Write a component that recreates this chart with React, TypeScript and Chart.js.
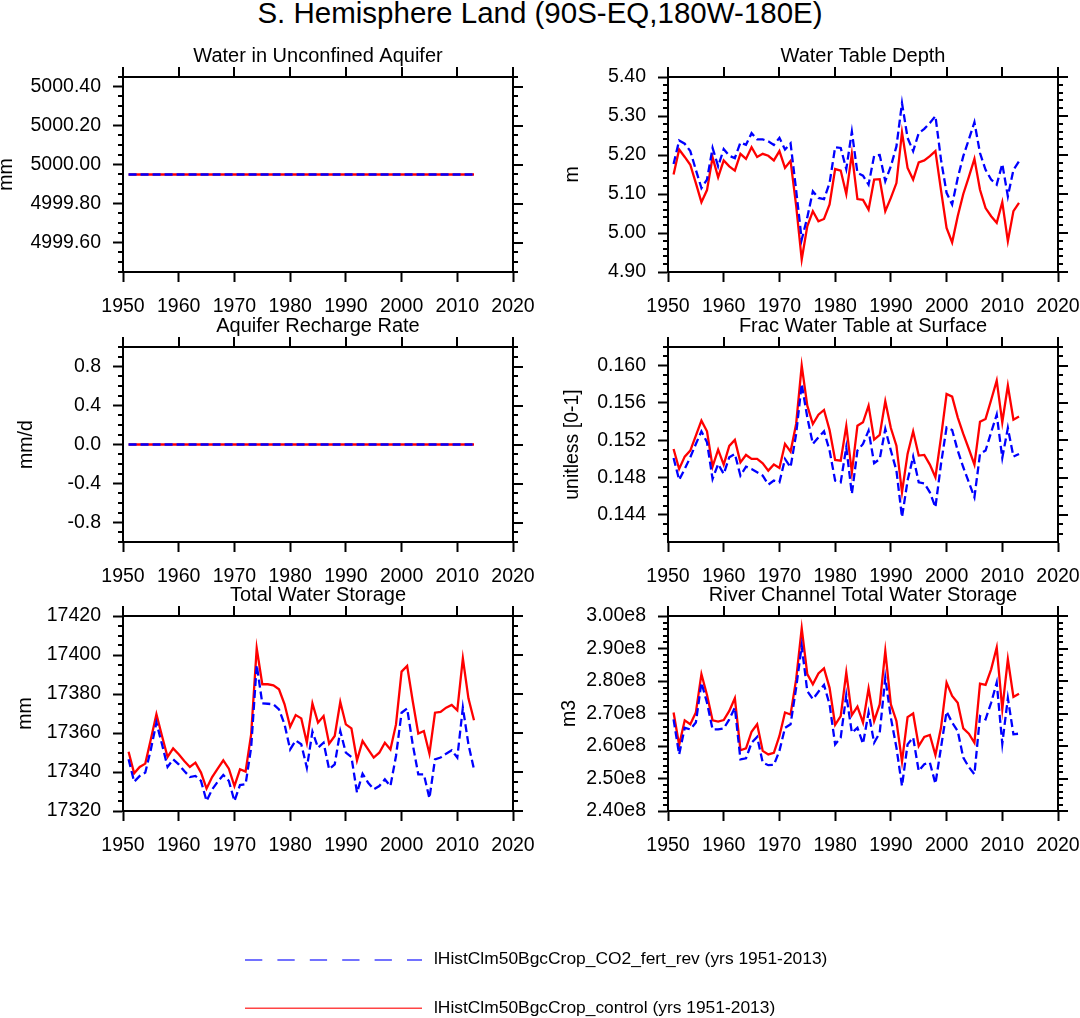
import React, { useEffect, useRef } from "react";
import { Chart, registerables } from "chart.js";

Chart.register(...registerables);

const FONT = "'Liberation Sans', Arial, Helvetica, sans-serif";

// ---------------- data ----------------
const years = [
  1951, 1952, 1953, 1954, 1955, 1956, 1957, 1958, 1959, 1960,
  1961, 1962, 1963, 1964, 1965, 1966, 1967, 1968, 1969, 1970,
  1971, 1972, 1973, 1974, 1975, 1976, 1977, 1978, 1979, 1980,
  1981, 1982, 1983, 1984, 1985, 1986, 1987, 1988, 1989, 1990,
  1991, 1992, 1993, 1994, 1995, 1996, 1997, 1998, 1999, 2000,
  2001, 2002, 2003, 2004, 2005, 2006, 2007, 2008, 2009, 2010,
  2011, 2012, 2013,
];

const xTicks = [1950, 1960, 1970, 1980, 1990, 2000, 2010, 2020];

const legendLabels = [
  "lHistClm50BgcCrop_CO2_fert_rev (yrs 1951-2013)",
  "lHistClm50BgcCrop_control (yrs 1951-2013)",
];

// Water in Unconfined Aquifer (mm)
const wauFert = [
  4999.95, 4999.95, 4999.95, 4999.95, 4999.95, 4999.95, 4999.95, 4999.95, 4999.95, 4999.95,
  4999.95, 4999.95, 4999.95, 4999.95, 4999.95, 4999.95, 4999.95, 4999.95, 4999.95, 4999.95,
  4999.95, 4999.95, 4999.95, 4999.95, 4999.95, 4999.95, 4999.95, 4999.95, 4999.95, 4999.95,
  4999.95, 4999.95, 4999.95, 4999.95, 4999.95, 4999.95, 4999.95, 4999.95, 4999.95, 4999.95,
  4999.95, 4999.95, 4999.95, 4999.95, 4999.95, 4999.95, 4999.95, 4999.95, 4999.95, 4999.95,
  4999.95, 4999.95, 4999.95, 4999.95, 4999.95, 4999.95, 4999.95, 4999.95, 4999.95, 4999.95,
  4999.95, 4999.95, 4999.95,
];
const wauCtrl = [
  4999.95, 4999.95, 4999.95, 4999.95, 4999.95, 4999.95, 4999.95, 4999.95, 4999.95, 4999.95,
  4999.95, 4999.95, 4999.95, 4999.95, 4999.95, 4999.95, 4999.95, 4999.95, 4999.95, 4999.95,
  4999.95, 4999.95, 4999.95, 4999.95, 4999.95, 4999.95, 4999.95, 4999.95, 4999.95, 4999.95,
  4999.95, 4999.95, 4999.95, 4999.95, 4999.95, 4999.95, 4999.95, 4999.95, 4999.95, 4999.95,
  4999.95, 4999.95, 4999.95, 4999.95, 4999.95, 4999.95, 4999.95, 4999.95, 4999.95, 4999.95,
  4999.95, 4999.95, 4999.95, 4999.95, 4999.95, 4999.95, 4999.95, 4999.95, 4999.95, 4999.95,
  4999.95, 4999.95, 4999.95,
];
const wauTicks = [4999.6, 4999.8, 5000.0, 5000.2, 5000.4];

// Water Table Depth (m)
const wtdFert = [
  5.177, 5.237, 5.229, 5.21, 5.162, 5.115, 5.137, 5.218, 5.171, 5.215,
  5.198, 5.192, 5.232, 5.226, 5.256, 5.24, 5.24, 5.235, 5.226, 5.244,
  5.214, 5.23, 5.11, 4.983, 5.04, 5.107, 5.09, 5.087, 5.128, 5.22,
  5.218, 5.164, 5.26, 5.154, 5.147, 5.124, 5.198, 5.2, 5.133, 5.171,
  5.222, 5.333, 5.244, 5.21, 5.256, 5.267, 5.282, 5.3, 5.188, 5.103,
  5.073, 5.141, 5.197, 5.24, 5.284, 5.205, 5.162, 5.137, 5.124, 5.177,
  5.094, 5.162, 5.184,
];
const wtdCtrl = [
  5.15, 5.214, 5.195, 5.175, 5.128, 5.079, 5.11, 5.194, 5.143, 5.186,
  5.171, 5.16, 5.203, 5.19, 5.22, 5.195, 5.203, 5.198, 5.186, 5.21,
  5.167, 5.185, 5.07, 4.932, 5.017, 5.056, 5.03, 5.036, 5.073, 5.164,
  5.16, 5.1, 5.203, 5.087, 5.085, 5.06, 5.137, 5.138, 5.056, 5.09,
  5.128, 5.258, 5.167, 5.137, 5.181, 5.186, 5.197, 5.21, 5.11, 5.013,
  4.976, 5.043, 5.1, 5.144, 5.19, 5.111, 5.064, 5.043, 5.026, 5.079,
  4.979, 5.056, 5.077,
];
const wtdTicks = [4.9, 5.0, 5.1, 5.2, 5.3, 5.4];

// Aquifer Recharge Rate (mm/d)
const arrFert = [
  0, 0, 0, 0, 0, 0, 0, 0, 0, 0,
  0, 0, 0, 0, 0, 0, 0, 0, 0, 0,
  0, 0, 0, 0, 0, 0, 0, 0, 0, 0,
  0, 0, 0, 0, 0, 0, 0, 0, 0, 0,
  0, 0, 0, 0, 0, 0, 0, 0, 0, 0,
  0, 0, 0, 0, 0, 0, 0, 0, 0, 0,
  0, 0, 0,
];
const arrCtrl = [
  0, 0, 0, 0, 0, 0, 0, 0, 0, 0,
  0, 0, 0, 0, 0, 0, 0, 0, 0, 0,
  0, 0, 0, 0, 0, 0, 0, 0, 0, 0,
  0, 0, 0, 0, 0, 0, 0, 0, 0, 0,
  0, 0, 0, 0, 0, 0, 0, 0, 0, 0,
  0, 0, 0, 0, 0, 0, 0, 0, 0, 0,
  0, 0, 0,
];
const arrTicks = [-0.8, -0.4, 0.0, 0.4, 0.8];

// Frac Water Table at Surface (unitless)
const fwtFert = [
  0.15011, 0.14775, 0.14893, 0.15018, 0.15161, 0.15296, 0.15179, 0.14786, 0.14946, 0.14839,
  0.15018, 0.15054, 0.14821, 0.14918, 0.14893, 0.14857, 0.14821, 0.14725, 0.14768, 0.1475,
  0.15, 0.14911, 0.15268, 0.15804, 0.15446, 0.15161, 0.15232, 0.15296, 0.1509, 0.14768,
  0.1475, 0.15125, 0.14625, 0.1509, 0.15161, 0.15304, 0.14954, 0.15, 0.15321, 0.1509,
  0.14875, 0.14375, 0.14768, 0.15025, 0.1475, 0.14739, 0.14643, 0.14482, 0.14946, 0.15339,
  0.15311, 0.1509, 0.14911, 0.1475, 0.14589, 0.15054, 0.1509, 0.15286, 0.15475, 0.15011,
  0.15332, 0.15025, 0.15054,
];
const fwtCtrl = [
  0.15107, 0.14893, 0.15025, 0.1509, 0.1525, 0.15411, 0.15296, 0.14918, 0.151, 0.1494,
  0.1514, 0.15204, 0.14964, 0.15043, 0.15, 0.15, 0.14954, 0.14875, 0.1494, 0.14904,
  0.15161, 0.15079, 0.15375, 0.16, 0.15571, 0.15375, 0.15475, 0.15525, 0.1531, 0.14989,
  0.14982, 0.15354, 0.14857, 0.15357, 0.15393, 0.15571, 0.15207, 0.15257, 0.15618, 0.15332,
  0.15143, 0.14643, 0.15054, 0.15296, 0.15036, 0.15043, 0.1494, 0.14804, 0.15232, 0.15696,
  0.15668, 0.15446, 0.15268, 0.15107, 0.1494, 0.154, 0.15429, 0.15632, 0.15839, 0.15393,
  0.15786, 0.15421, 0.15454,
];
const fwtTicks = [0.144, 0.148, 0.152, 0.156, 0.16];

// Total Water Storage (mm)
const twsFert = [
  17346.5, 17335.0, 17338.0, 17339.7, 17351.6, 17365.3, 17354.2, 17342.6, 17346.5, 17343.9,
  17340.5, 17337.4, 17338.0, 17335.4, 17325.1, 17331.1, 17335.0, 17338.5, 17335.4, 17325.1,
  17333.3, 17333.7, 17352.5, 17394.9, 17375.2, 17375.0, 17374.7, 17372.1, 17364.4, 17351.6,
  17356.2, 17354.2, 17342.2, 17360.7, 17352.5, 17355.0, 17341.4, 17343.9, 17361.0, 17349.9,
  17347.7, 17329.4, 17339.1, 17334.5, 17331.1, 17332.8, 17336.2, 17332.8, 17348.2, 17370.4,
  17372.6, 17354.2, 17338.8, 17338.8, 17326.5, 17346.5, 17347.4, 17349.4, 17351.1, 17347.4,
  17373.0, 17354.2, 17341.4,
];
const twsCtrl = [
  17350.4, 17339.3, 17342.6, 17344.3, 17356.8, 17369.6, 17358.5, 17347.7, 17352.1, 17349.1,
  17345.6, 17342.6, 17344.8, 17339.7, 17331.5, 17337.4, 17341.7, 17346.0, 17341.7, 17332.8,
  17341.4, 17340.2, 17359.3, 17403.4, 17385.0, 17385.0, 17384.4, 17382.4, 17374.7, 17363.2,
  17369.2, 17367.5, 17355.0, 17375.2, 17365.3, 17368.7, 17354.5, 17358.5, 17375.9, 17364.4,
  17362.4, 17346.0, 17355.9, 17351.6, 17347.4, 17349.9, 17355.0, 17351.6, 17364.4, 17391.5,
  17394.4, 17376.4, 17359.7, 17361.0, 17349.4, 17370.4, 17370.8, 17373.0, 17374.4, 17371.6,
  17398.3, 17377.8, 17366.5,
];
const twsTicks = [17320, 17340, 17360, 17380, 17400, 17420];

// River Channel Total Water Storage (m3)
const rctFert = [
  2.682e8, 2.574e8, 2.656e8, 2.651e8, 2.672e8, 2.795e8, 2.733e8, 2.651e8, 2.651e8, 2.654e8,
  2.682e8, 2.718e8, 2.559e8, 2.562e8, 2.61e8, 2.628e8, 2.549e8, 2.541e8, 2.542e8, 2.585e8,
  2.656e8, 2.667e8, 2.779e8, 2.908e8, 2.769e8, 2.744e8, 2.767e8, 2.788e8, 2.728e8, 2.605e8,
  2.626e8, 2.757e8, 2.641e8, 2.656e8, 2.607e8, 2.703e8, 2.61e8, 2.641e8, 2.81e8, 2.687e8,
  2.595e8, 2.477e8, 2.605e8, 2.626e8, 2.523e8, 2.544e8, 2.549e8, 2.484e8, 2.595e8, 2.706e8,
  2.672e8, 2.646e8, 2.564e8, 2.535e8, 2.513e8, 2.692e8, 2.682e8, 2.733e8, 2.795e8, 2.607e8,
  2.747e8, 2.636e8, 2.638e8,
];
const rctCtrl = [
  2.703e8, 2.603e8, 2.679e8, 2.667e8, 2.703e8, 2.821e8, 2.757e8, 2.679e8, 2.675e8, 2.68e8,
  2.708e8, 2.747e8, 2.587e8, 2.593e8, 2.644e8, 2.667e8, 2.585e8, 2.574e8, 2.579e8, 2.631e8,
  2.703e8, 2.697e8, 2.805e8, 2.962e8, 2.821e8, 2.79e8, 2.823e8, 2.839e8, 2.779e8, 2.665e8,
  2.692e8, 2.826e8, 2.695e8, 2.721e8, 2.672e8, 2.777e8, 2.677e8, 2.728e8, 2.892e8, 2.728e8,
  2.677e8, 2.552e8, 2.689e8, 2.7e8, 2.6e8, 2.628e8, 2.634e8, 2.572e8, 2.656e8, 2.795e8,
  2.754e8, 2.733e8, 2.654e8, 2.638e8, 2.61e8, 2.792e8, 2.788e8, 2.836e8, 2.903e8, 2.713e8,
  2.867e8, 2.751e8, 2.761e8,
];
const rctTicks = [2.4e8, 2.5e8, 2.6e8, 2.7e8, 2.8e8, 2.9e8, 3.0e8];

// ---------------- layout ----------------
type PanelCfg = {
  title: string;
  yTitle: string;
  yTitlePad: number;
  left: number;
  top: number;
  width: number;
  padRight: number;
  fert: number[];
  ctrl: number[];
  yMin: number;
  yMax: number;
  yTicks: number[];
  yMinor: number;
  fmt: (v: number) => string;
};

const CANVAS_H = 290;
const Y_AXIS_W = 123;
const X_AXIS_H = 45;

const panels: PanelCfg[] = [
  {
    title: "Water in Unconfined Aquifer", yTitle: "mm", yTitlePad: -5.5,
    left: 0, top: 27, width: 540, padRight: 27,
    fert: wauFert, ctrl: wauCtrl, yMin: 4999.45, yMax: 5000.45, yTicks: wauTicks, yMinor: 0.05,
    fmt: (v) => v.toFixed(2),
  },
  {
    title: "Water Table Depth", yTitle: "m", yTitlePad: 15.6,
    left: 545, top: 27, width: 535, padRight: 22,
    fert: wtdFert, ctrl: wtdCtrl, yMin: 4.9, yMax: 5.4, yTicks: wtdTicks, yMinor: 0.02,
    fmt: (v) => v.toFixed(2),
  },
  {
    title: "Aquifer Recharge Rate", yTitle: "mm/d", yTitlePad: 14.6,
    left: 0, top: 297, width: 540, padRight: 27,
    fert: arrFert, ctrl: arrCtrl, yMin: -1, yMax: 1, yTicks: arrTicks, yMinor: 0.1,
    fmt: (v) => v.toFixed(1),
  },
  {
    title: "Frac Water Table at Surface", yTitle: "unitless [0-1]", yTitlePad: 15.6,
    left: 545, top: 297, width: 535, padRight: 22,
    fert: fwtFert, ctrl: fwtCtrl, yMin: 0.1411, yMax: 0.162, yTicks: fwtTicks, yMinor: 0.001,
    fmt: (v) => v.toFixed(3),
  },
  {
    title: "Total Water Storage", yTitle: "mm", yTitlePad: 14.2,
    left: 0, top: 566, width: 540, padRight: 27,
    fert: twsFert, ctrl: twsCtrl, yMin: 17320, yMax: 17420, yTicks: twsTicks, yMinor: 5,
    fmt: (v) => v.toFixed(0),
  },
  {
    title: "River Channel Total Water Storage", yTitle: "m3", yTitlePad: 12.6,
    left: 545, top: 566, width: 535, padRight: 22,
    fert: rctFert, ctrl: rctCtrl, yMin: 2.4e8, yMax: 3.0e8, yTicks: rctTicks, yMinor: 0.02e8,
    fmt: (v) => (v / 1e8).toFixed(2) + "e8",
  },
];

function Panel({ cfg }: { cfg: PanelCfg }) {
  const ref = useRef<HTMLCanvasElement>(null);

  useEffect(() => {
    const canvas = ref.current;
    if (!canvas) return;

    const framePlugin = {
      id: "nclFrame",
      afterDraw(chart: any) {
        const { ctx, chartArea: a, scales } = chart;
        const xs = scales.x;
        const ys = scales.y;
        ctx.save();
        ctx.strokeStyle = "#000";
        ctx.lineWidth = 2;
        ctx.lineCap = "butt";
        ctx.strokeRect(a.left, a.top, a.right - a.left, a.bottom - a.top);
        ctx.beginPath();
        for (const v of xTicks) {
          const px = Math.round(xs.getPixelForValue(v));
          ctx.moveTo(px, a.top);
          ctx.lineTo(px, a.top - 10);
        }
        for (const v of cfg.yTicks) {
          const py = Math.round(ys.getPixelForValue(v));
          ctx.moveTo(a.right, py);
          ctx.lineTo(a.right + 10, py);
        }
        ctx.stroke();
        // minor ticks on left and right
        ctx.beginPath();
        const k0 = Math.ceil(cfg.yMin / cfg.yMinor - 1e-6);
        const k1 = Math.floor(cfg.yMax / cfg.yMinor + 1e-6);
        for (let k = k0; k <= k1; k++) {
          const v = k * cfg.yMinor;
          const isMajor = cfg.yTicks.some((t) => Math.abs(t - v) < cfg.yMinor * 1e-3);
          if (isMajor) continue;
          const py = Math.round(ys.getPixelForValue(v));
          ctx.moveTo(a.left, py);
          ctx.lineTo(a.left - 5, py);
          ctx.moveTo(a.right, py);
          ctx.lineTo(a.right + 5, py);
        }
        ctx.stroke();
        ctx.restore();
      },
    };

    const tickFont = { family: FONT, size: 19.5, weight: "normal" as const };

    const chart = new Chart(canvas, {
      type: "line",
      data: {
        datasets: [
          {
            label: legendLabels[0],
            data: years.map((x, i) => ({ x, y: cfg.fert[i] })),
            borderColor: "#0000ff",
            borderWidth: 2.3,
            borderDash: [8, 4],
            pointRadius: 0,
            fill: false,
            tension: 0,
          },
          {
            label: legendLabels[1],
            data: years.map((x, i) => ({ x, y: cfg.ctrl[i] })),
            borderColor: "#ff0000",
            borderWidth: 2.3,
            pointRadius: 0,
            fill: false,
            tension: 0,
          },
        ],
      },
      options: {
        animation: false,
        responsive: false,
        maintainAspectRatio: false,
        events: [],
        layout: { padding: { left: 0, right: cfg.padRight, top: 0, bottom: 0 } },
        plugins: {
          legend: { display: false },
          tooltip: { enabled: false },
          title: {
            display: true,
            fullSize: false,
            text: cfg.title,
            color: "#000",
            font: { family: FONT, size: 20, weight: "normal", lineHeight: 1.2 },
            padding: { top: 17.5, bottom: 8.5 },
          },
        },
        scales: {
          x: {
            type: "linear",
            min: 1950,
            max: 2020,
            afterBuildTicks: (s: any) => {
              s.ticks = xTicks.map((v) => ({ value: v }));
            },
            afterFit: (s: any) => {
              s.height = X_AXIS_H;
              s.paddingLeft = 0;
              s.paddingRight = 0;
              s.paddingTop = 0;
              s.paddingBottom = 0;
            },
            ticks: {
              font: tickFont,
              color: "#000",
              padding: 13,
              maxRotation: 0,
              minRotation: 0,
              autoSkip: false,
              callback: (v: any) => String(v),
            },
            grid: {
              display: true,
              drawOnChartArea: false,
              drawTicks: true,
              tickLength: 10,
              tickWidth: 2,
              tickColor: "#000",
            },
            border: { display: true, width: 2, color: "#000" },
          },
          y: {
            type: "linear",
            min: cfg.yMin,
            max: cfg.yMax,
            afterBuildTicks: (s: any) => {
              s.ticks = cfg.yTicks.map((v) => ({ value: v }));
            },
            afterFit: (s: any) => {
              s.width = Y_AXIS_W;
              s.paddingLeft = 0;
              s.paddingRight = 0;
              s.paddingTop = 0;
              s.paddingBottom = 0;
            },
            ticks: {
              font: tickFont,
              color: "#000",
              padding: 12,
              autoSkip: false,
              callback: (v: any) => cfg.fmt(Number(v)),
            },
            grid: {
              display: true,
              drawOnChartArea: false,
              drawTicks: true,
              tickLength: 10,
              tickWidth: 2,
              tickColor: "#000",
            },
            border: { display: true, width: 2, color: "#000" },
            title: {
              display: true,
              text: cfg.yTitle,
              color: "#000",
              font: { family: FONT, size: 19.5, weight: "normal", lineHeight: 1.2 },
              padding: { top: cfg.yTitlePad, bottom: 0 },
            },
          },
        },
      },
      plugins: [framePlugin],
    } as any);

    return () => chart.destroy();
  }, [cfg]);

  return (
    <canvas
      ref={ref}
      width={cfg.width}
      height={CANVAS_H}
      style={{
        position: "absolute",
        left: cfg.left,
        top: cfg.top,
        width: cfg.width,
        height: CANVAS_H,
      }}
    />
  );
}

export default function App() {
  return (
    <div
      style={{
        position: "absolute",
        left: 0,
        top: 0,
        width: 1080,
        height: 1018,
        overflow: "hidden",
        background: "#fff",
        fontFamily: FONT,
        color: "#000",
      }}
    >
      <div
        style={{
          position: "absolute",
          left: 0,
          top: -2,
          width: 1080,
          textAlign: "center",
          fontSize: 29.5,
          lineHeight: "30px",
          whiteSpace: "nowrap",
        }}
      >
        S. Hemisphere Land (90S-EQ,180W-180E)
      </div>

      {panels.map((p, i) => (
        <Panel key={i} cfg={p} />
      ))}

      <svg
        width={1080}
        height={1018}
        style={{ position: "absolute", left: 0, top: 0, pointerEvents: "none" }}
      >
        <line x1={245} y1={960} x2={422} y2={960} stroke="#4444ff" strokeWidth={1.6} strokeDasharray="17.3 15.1" />
        <line x1={245} y1={1008.3} x2={422} y2={1008.3} stroke="#ff4444" strokeWidth={1.6} />
      </svg>
      <div
        style={{
          position: "absolute",
          left: 434,
          top: 947.3,
          fontSize: 17.4,
          lineHeight: "22px",
          whiteSpace: "nowrap",
        }}
      >
        {legendLabels[0]}
      </div>
      <div
        style={{
          position: "absolute",
          left: 434,
          top: 995.8,
          fontSize: 17.4,
          lineHeight: "22px",
          whiteSpace: "nowrap",
        }}
      >
        {legendLabels[1]}
      </div>
    </div>
  );
}
